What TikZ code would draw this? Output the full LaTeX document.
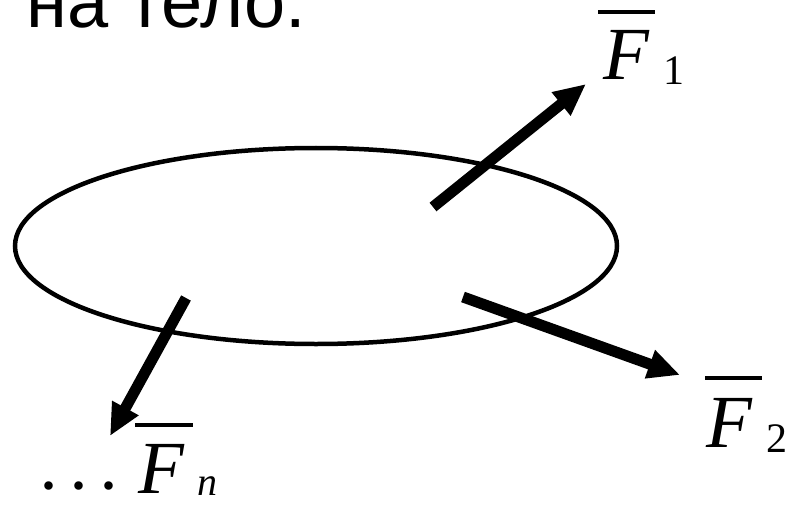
\documentclass[tikz,border=0pt]{standalone}
\usepackage{fontspec}
\setmainfont{Liberation Sans}
\newfontfamily\tms{Liberation Serif}
\usetikzlibrary{arrows.meta,shapes.geometric}
\begin{document}
\begin{tikzpicture}[x=1pt,y=-1pt,
  force/.style={line width=11pt,-{Triangle[length=32pt,width=28pt]}},
  bar/.style={line width=4pt},
  lbl/.style={inner sep=0pt,anchor=base west,font=\tms\fontsize{75}{80}\selectfont\itshape},
  sub/.style={inner sep=0pt,anchor=base west,font=\tms\fontsize{42}{46}\selectfont}]
\useasboundingbox (0,0) rectangle (791,505);
\node[inner sep=0pt,anchor=base west,font=\fontsize{74}{80}\selectfont] (title) at (26,28) {на тело.};
\node[draw,ellipse,line width=4.5pt,minimum width=602pt,minimum height=196pt,inner sep=0pt] (body) at (316,246) {};
% forces
\coordinate (t1) at (433,207); \coordinate (h1) at (586,84);
\coordinate (t2) at (463,297); \coordinate (h2) at (680,375);
\coordinate (tn) at (186,298); \coordinate (hn) at (110,436);
\draw[force] (t1) -- (h1);
\draw[force] (t2) -- (h2);
\draw[force] (tn) -- (hn);
% labels
\node[lbl] (F1) at (603,80) {F};
\node[sub] (s1) at (663,85) {1};
\coordinate (b1a) at (598,12); \coordinate (b1b) at (655,12);
\draw[bar] (b1a) -- (b1b);
\node[lbl] (F2) at (706,447) {F};
\node[sub] (s2) at (766,452) {2};
\coordinate (b2a) at (705,378); \coordinate (b2b) at (762,378);
\draw[bar] (b2a) -- (b2b);
\node[lbl] (Fn) at (138,493) {F};
\node[sub,font=\tms\fontsize{40}{44}\selectfont\itshape] (sn) at (197,495) {n};
\coordinate (bna) at (135,425); \coordinate (bnb) at (193,425);
\draw[bar] (bna) -- (bnb);
\node[inner sep=0pt,anchor=base west,font=\tms\fontsize{52}{56}\selectfont\bfseries] (dots) at (42,489) {. . .};
\end{tikzpicture}
\end{document}
